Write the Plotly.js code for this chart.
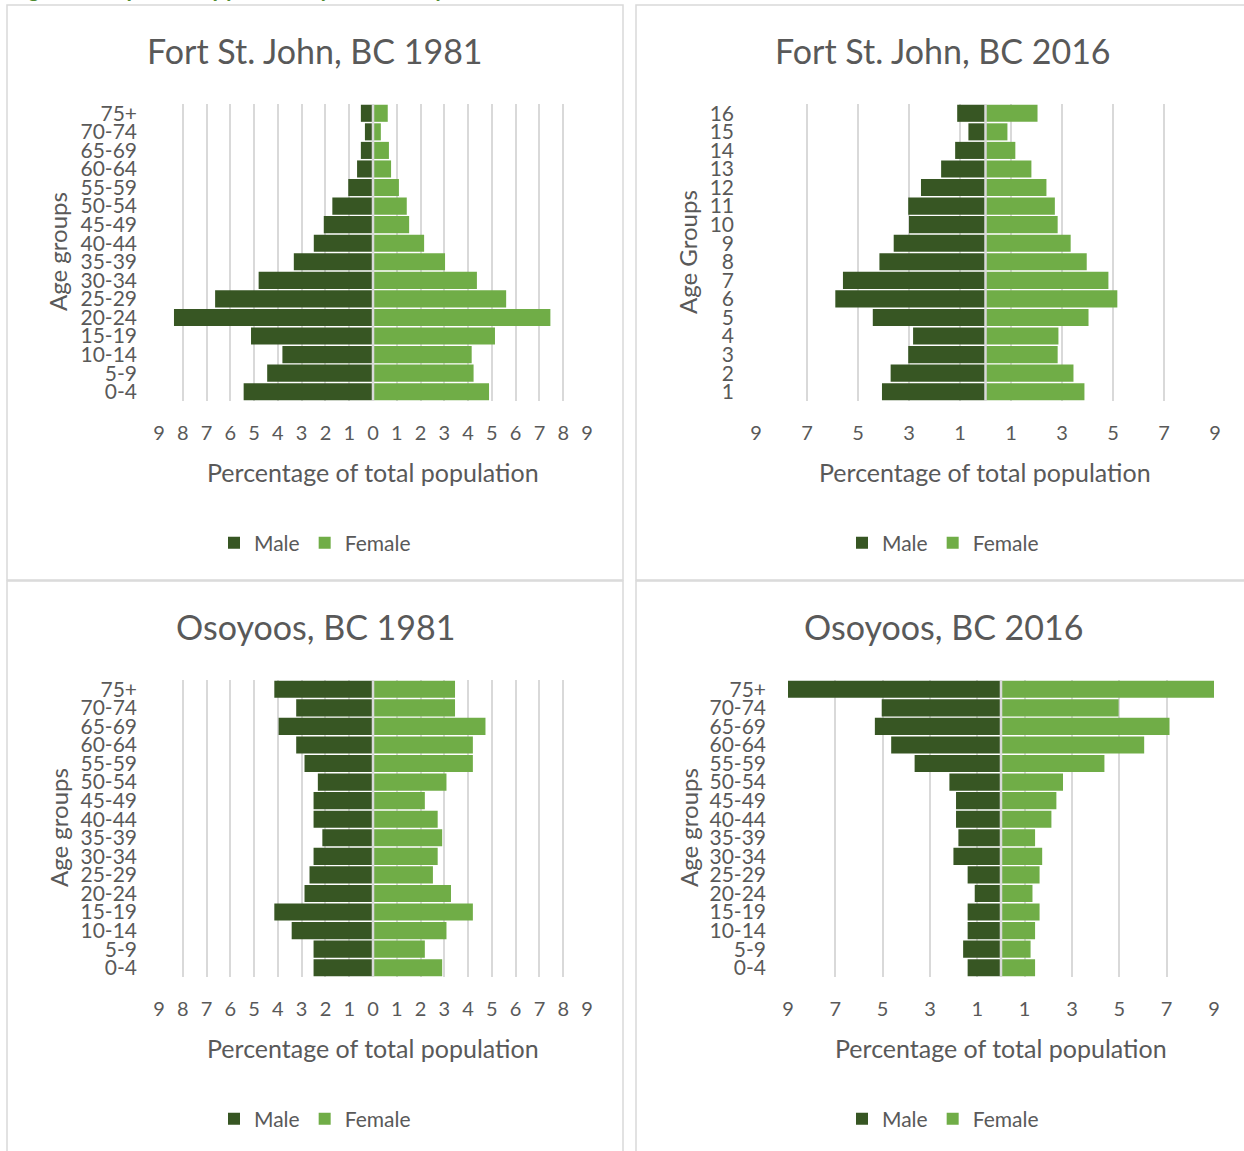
<!DOCTYPE html>
<html><head><meta charset="utf-8">
<script src="https://cdn.plot.ly/plotly-3.0.1.min.js"></script>
<style>html,body{margin:0;padding:0;background:#fff;overflow:hidden;}</style>
</head><body><div id="chart" style="width:1244px;height:1151px;"></div>
<script>
// ---------- data (bottom row first) ----------
const ageGroups = ['0-4','5-9','10-14','15-19','20-24','25-29','30-34','35-39','40-44','45-49','50-54','55-59','60-64','65-69','70-74','75+'];
const ageNumbers = ['1','2','3','4','5','6','7','8','9','10','11','12','13','14','15','16'];

const fsj1981Male   = [5.44,4.45,3.81,5.13,8.37,6.64,4.81,3.33,2.49,2.07,1.71,1.04,0.67,0.51,0.34,0.51];
const fsj1981Female = [4.88,4.23,4.15,5.13,7.46,5.60,4.37,3.03,2.15,1.52,1.42,1.09,0.76,0.67,0.33,0.62];

const fsj2016Male   = [4.06,3.72,3.03,2.84,4.42,5.89,5.59,4.16,3.60,3.00,3.03,2.53,1.74,1.19,0.67,1.11];
const fsj2016Female = [3.88,3.45,2.83,2.86,4.04,5.17,4.82,3.97,3.34,2.83,2.72,2.39,1.80,1.17,0.86,2.04];

const oso1981Male   = [2.50,2.50,3.42,4.15,2.88,2.67,2.50,2.13,2.50,2.50,2.32,2.88,3.23,3.97,3.23,4.15];
const oso1981Female = [2.91,2.18,3.09,4.20,3.28,2.52,2.72,2.91,2.72,2.18,3.09,4.20,4.20,4.73,3.45,3.45];

const oso2016Male   = [1.41,1.60,1.41,1.41,1.11,1.41,2.01,1.80,1.90,1.90,2.18,3.65,4.64,5.33,5.04,9.00];
const oso2016Female = [1.44,1.25,1.44,1.63,1.33,1.63,1.74,1.44,2.13,2.34,2.62,4.37,6.05,7.12,4.97,9.10];

const ticksEvery1 = [-9,-8,-7,-6,-5,-4,-3,-2,-1,0,1,2,3,4,5,6,7,8,9];
const ticksEvery2 = [-9,-7,-5,-3,-1,1,3,5,7,9];

const panels = [
  {title:'Fort St. John, BC 1981', yTitle:'Age groups', cats:ageGroups,  male:fsj1981Male, female:fsj1981Female, ticks:ticksEvery1},
  {title:'Fort St. John, BC 2016', yTitle:'Age Groups', cats:ageNumbers, male:fsj2016Male, female:fsj2016Female, ticks:ticksEvery2},
  {title:'Osoyoos, BC 1981',       yTitle:'Age groups', cats:ageGroups,  male:oso1981Male, female:oso1981Female, ticks:ticksEvery1},
  {title:'Osoyoos, BC 2016',       yTitle:'Age groups', cats:ageGroups,  male:oso2016Male, female:oso2016Female, ticks:ticksEvery2}
];

// ---------- layout geometry (pixels) ----------
const W = 1244, H = 1151;
const X = px => px / W;
const Y = py => 1 - py / H;
const geo = [
  {pl:159, pr:587,  pt:104, pb:401, box:[7,5,623,580],      tx:315, ty:50,  axx:373,  axy:472,  ytx:58,  yty:252, lgx:214, lgy:543},
  {pl:756, pr:1215, pt:104, pb:401, box:[636,5,1252,580],   tx:943, ty:50,  axx:985,  axy:472,  ytx:688, yty:252, lgx:842, lgy:543},
  {pl:159, pr:587,  pt:680, pb:977, box:[7,581,623,1156],   tx:315, ty:626, axx:373,  axy:1048, ytx:58,  yty:828, lgx:214, lgy:1119},
  {pl:788, pr:1214, pt:680, pb:977, box:[636,581,1252,1156],tx:943, ty:626, axx:1001, axy:1048, ytx:688, yty:828, lgx:842, lgy:1119}
];

const MALE = '#375623', FEMALE = '#70AD47', TXT = '#595959', GRID = '#D9D9D9';
const FONT = 'Lato, "Open Sans", sans-serif';

const traces = [];
const layout = {
  width: W, height: H,
  margin: {l:0, r:0, t:0, b:0},
  paper_bgcolor: '#ffffff', plot_bgcolor: '#ffffff',
  font: {family: FONT, color: TXT},
  barmode: 'overlay', bargap: 0.08,
  showlegend: true,
  annotations: [], shapes: []
};

// heading of the page, cut off at the top edge as in the source
layout.annotations.push({
  xref:'paper', yref:'paper', x: X(8), y: Y(4), xanchor:'left', yanchor:'bottom',
  text:'<b>Figure 5: Population pyramids by community</b>', showarrow:false,
  font:{family:FONT, size:22, color:'#4E8A2E'}
});

panels.forEach((p, i) => {
  const g = geo[i];
  const n = i === 0 ? '' : String(i + 1);
  const lg = i === 0 ? 'legend' : 'legend' + (i + 1);
  traces.push({
    type:'bar', orientation:'h', name:'Male', legend: lg,
    y: p.cats, x: p.male.map(v => -v), customdata: p.male,
    hovertemplate:'%{y}: %{customdata}%<extra>Male</extra>',
    marker:{color: MALE}, xaxis:'x' + n, yaxis:'y' + n
  });
  traces.push({
    type:'bar', orientation:'h', name:'Female', legend: lg,
    y: p.cats, x: p.female,
    hovertemplate:'%{y}: %{x}%<extra>Female</extra>',
    marker:{color: FEMALE}, xaxis:'x' + n, yaxis:'y' + n
  });
  layout['xaxis' + n] = {
    domain:[X(g.pl), X(g.pr)], anchor:'y' + n, range:[-9, 9], fixedrange:true,
    tickmode:'array', tickvals:p.ticks, ticktext:p.ticks.map(v => String(Math.abs(v))),
    showgrid:true, gridcolor:GRID, gridwidth:1.5, zeroline:false, showline:false,
    ticks:'', ticklabelstandoff: 18,
    tickfont:{family:FONT, size:20, color:TXT}
  };
  layout['yaxis' + n] = {
    domain:[Y(g.pb), Y(g.pt)], anchor:'x' + n, type:'category', fixedrange:true,
    categoryorder:'array', categoryarray:p.cats,
    tickmode:'array', tickvals:p.cats, ticktext:p.cats,
    showgrid:false, zeroline:false, showline:false, ticks:'', ticklabelstandoff: 21,
    tickfont:{family:FONT, size:21, color:TXT}
  };
  layout[lg] = {
    orientation:'h', x: X(g.lgx), y: Y(g.lgy), xanchor:'left', yanchor:'middle',
    font:{family:FONT, size:21, color:TXT}, bgcolor:'rgba(0,0,0,0)', borderwidth:0,
    itemclick:false, itemdoubleclick:false
  };
  // panel frame
  layout.shapes.push({type:'rect', xref:'paper', yref:'paper',
    x0:X(g.box[0]), y0:Y(g.box[1]), x1:X(g.box[2]), y1:Y(g.box[3]),
    line:{color:GRID, width:1.5}, fillcolor:'rgba(0,0,0,0)', layer:'below'});
  // vertical axis line at zero
  layout.shapes.push({type:'line', xref:'x' + n, yref:'y' + n + ' domain',
    x0:0, x1:0, y0:0, y1:1, line:{color:GRID, width:2.5}, layer:'above'});
  // titles
  layout.annotations.push({xref:'paper', yref:'paper', x:X(g.tx), y:Y(g.ty), xanchor:'center', yanchor:'middle',
    text:p.title, showarrow:false, font:{family:FONT, size:34, color:TXT}});
  layout.annotations.push({xref:'paper', yref:'paper', x:X(g.axx), y:Y(g.axy), xanchor:'center', yanchor:'middle',
    text:'Percentage of total population', showarrow:false, font:{family:FONT, size:25, color:TXT}});
  layout.annotations.push({xref:'paper', yref:'paper', x:X(g.ytx), y:Y(g.yty), xanchor:'center', yanchor:'middle',
    text:p.yTitle, textangle:-90, showarrow:false, font:{family:FONT, size:24, color:TXT}});
});

Plotly.newPlot('chart', traces, layout, {displayModeBar:false, responsive:false});
</script>
</body></html>
